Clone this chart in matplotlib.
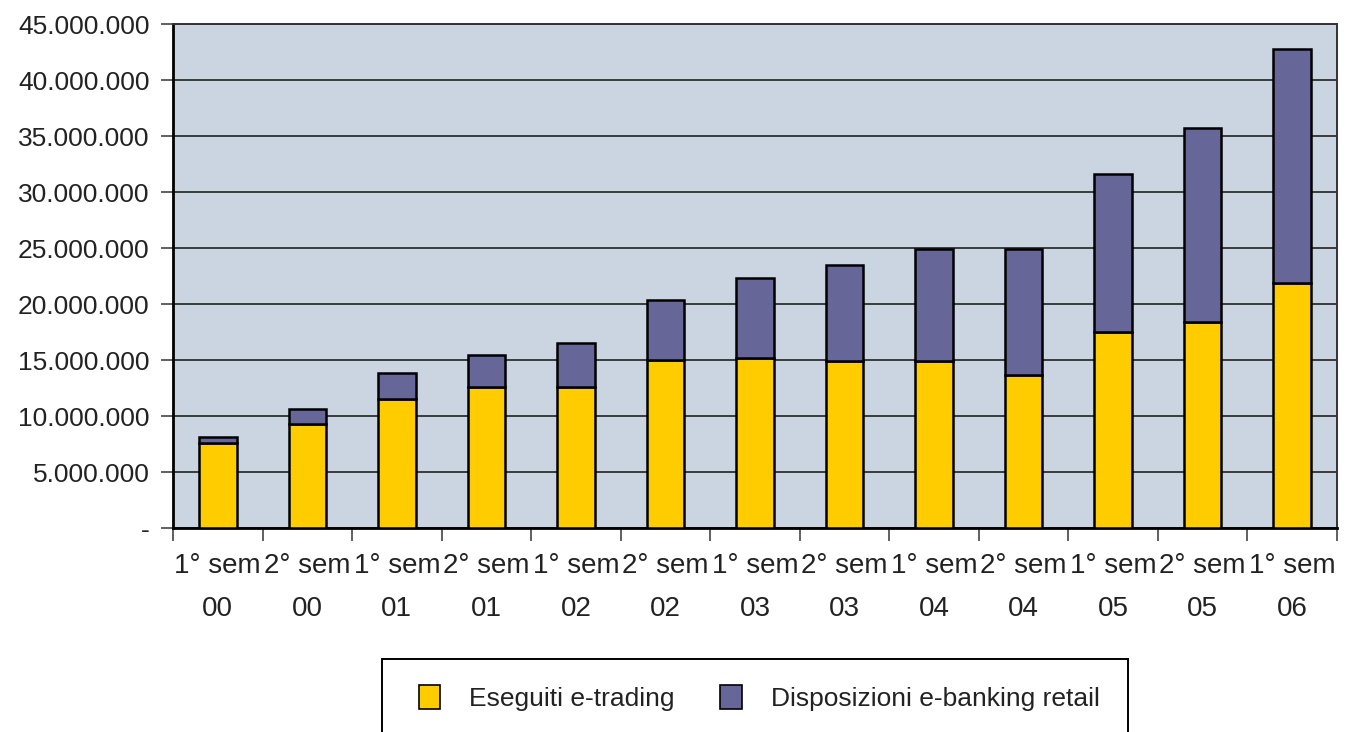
import matplotlib.pyplot as plt
import numpy as np
from matplotlib.patches import Patch, Rectangle
from matplotlib.ticker import FuncFormatter, FixedLocator

plt.rcParams['font.family'] = ['Liberation Sans', 'DejaVu Sans']

# semesters 2000-2006
periods = ['1° sem\n00', '2° sem\n00', '1° sem\n01', '2° sem\n01', '1° sem\n02',
           '2° sem\n02', '1° sem\n03', '2° sem\n03', '1° sem\n04', '2° sem\n04',
           '1° sem\n05', '2° sem\n05', '1° sem\n06']

# orders executed via e-trading
trading = [7.56, 9.29, 11.50, 12.56, 12.56, 15.00, 15.15, 14.94, 14.94, 13.66,
           17.47, 18.37, 21.85]
# totals including retail e-banking instructions
totals = [8.10, 10.60, 13.87, 15.45, 16.49, 20.36, 22.35, 23.48, 24.88, 24.88,
          31.60, 35.74, 42.77]

trading = np.array(trading) * 1e6
banking = np.array(totals) * 1e6 - trading

yellow = '#ffcc00'
purple = '#666699'

fig = plt.figure(figsize=(13.46, 7.32), dpi=100)
ax = fig.add_axes([173/1346, 1 - 528/732, 1164/1346, 504/732])
ax.set_facecolor('#cbd5e1')

x = np.arange(len(periods))
ax.bar(x, trading, width=0.42, color=yellow, edgecolor='black', linewidth=1.8, zorder=3)
ax.bar(x, banking, bottom=trading, width=0.42, color=purple, edgecolor='black',
       linewidth=1.8, zorder=3)

ax.set_xlim(-0.5, len(periods) - 0.5)
ax.set_ylim(0, 45e6)
ax.set_yticks(np.arange(0, 45e6 + 1, 5e6))
ax.yaxis.set_major_formatter(FuncFormatter(
    lambda v, p: '-' if v == 0 else f'{int(v):,}'.replace(',', '.')))
ax.grid(axis='y', color='#222222', linewidth=1.2, zorder=1)

# ticks on the category boundaries, labels centred under each bar
ax.xaxis.set_major_locator(FixedLocator(np.arange(-0.5, len(periods), 1)))
ax.xaxis.set_major_formatter(FuncFormatter(lambda v, p: ''))
ax.xaxis.set_minor_locator(FixedLocator(x))
ax.set_xticklabels(periods, minor=True)
ax.tick_params(axis='x', which='major', length=9, width=1.2, color='#444444', direction='out')
ax.tick_params(axis='x', which='minor', length=0, pad=18, labelsize=20, colors='#222222')
ax.tick_params(axis='y', length=9, width=1.2, color='#444444', labelsize=19,
               colors='#222222', pad=8)
for lbl in ax.get_xticklabels(minor=True):
    lbl.set_linespacing(1.85)

for side in ['top', 'right']:
    ax.spines[side].set_color('#333333')
    ax.spines[side].set_linewidth(1.4)
for side in ['left', 'bottom']:
    ax.spines[side].set_color('black')
    ax.spines[side].set_linewidth(2.0)

# legend box running off the bottom edge
fig.add_artist(Rectangle((382/1346, -0.05), 746/1346, 0.05 + (732 - 659)/732,
                         transform=fig.transFigure, facecolor='white',
                         edgecolor='black', linewidth=1.4, clip_on=False))
handles = [Patch(facecolor=yellow, edgecolor='black', linewidth=1.2),
           Patch(facecolor=purple, edgecolor='black', linewidth=1.2)]
fig.legend(handles, ['Eseguiti e-trading', 'Disposizioni e-banking retail'],
           loc='center', bbox_to_anchor=(759/1346, 1 - 698/732), ncol=2,
           frameon=False, fontsize=19, handlelength=0.8, handleheight=1.0,
           handletextpad=1.1, columnspacing=1.75, labelcolor='#222222')

fig.savefig('out.png', dpi=100)
